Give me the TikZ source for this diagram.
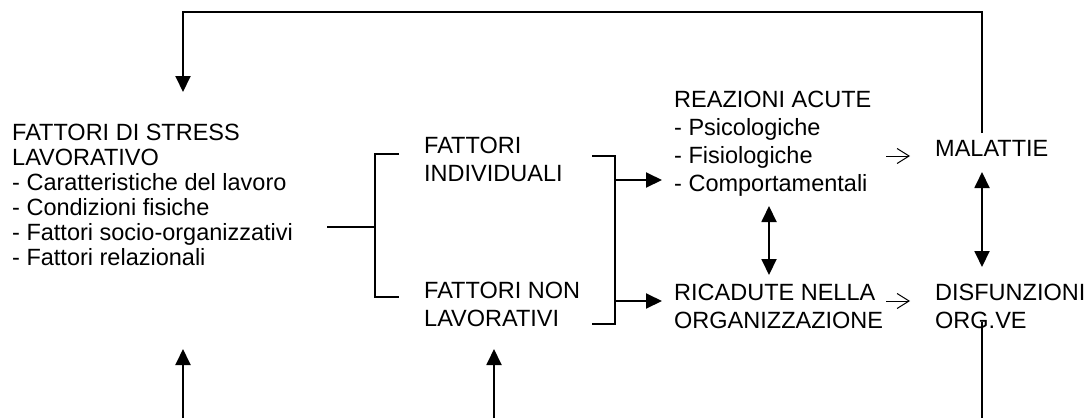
\documentclass[tikz,border=0pt]{standalone}
\usepackage{fontspec}
\setmainfont{Liberation Sans}
\usetikzlibrary{arrows.meta}
\begin{document}
\begin{tikzpicture}[x=1pt,y=-1pt,
  txt/.style={inner sep=0pt, anchor=base west, align=left, font=\fontsize{23.5}{28}\selectfont},
  tight/.style={font=\fontsize{23.5}{25}\selectfont},
  ln/.style={line width=1.9pt},
  arr/.style={ln, -{Triangle[length=16pt,width=15pt]}},
  darr/.style={ln, {Triangle[length=16pt,width=15pt]}-{Triangle[length=16pt,width=15pt]}},
  openarr/.style={line width=1pt, -{Straight Barb[length=12pt,width=15pt]}}]
\useasboundingbox (0,0) rectangle (1091,418);
\fill[white] (0,0) rectangle (1091,418);

% texts (anchored at the baseline of their last line)
\node[txt,tight] (stress) at (12,265) {FATTORI DI STRESS\\LAVORATIVO\\- Caratteristiche del lavoro\\- Condizioni fisiche\\- Fattori socio-organizzativi\\- Fattori relazionali};
\node[txt] (indiv) at (424,181) {FATTORI\\INDIVIDUALI};
\node[txt] (nonlav) at (424,326) {FATTORI NON\\LAVORATIVI};
\node[txt] (reaz) at (674,191) {REAZIONI ACUTE\\- Psicologiche\\- Fisiologiche\\- Comportamentali};
\node[txt] (ricad) at (674,328) {RICADUTE NELLA\\ORGANIZZAZIONE};
\node[txt] (mal) at (935,156) {MALATTIE};
\node[txt] (disf) at (935,328) {DISFUNZIONI\\ORG.VE};

% coordinates
\coordinate (stemL) at (327,227);
\coordinate (stemR) at (375,227);
\coordinate (lbTop) at (399,154);
\coordinate (lbBot) at (399,297);
\coordinate (rbTop) at (592,156);
\coordinate (rbBot) at (592,324);
\coordinate (rbX) at (615,240);
\coordinate (tipA) at (662,180);
\coordinate (tipB) at (662,301);
\coordinate (rrTop) at (769,206);
\coordinate (rrBot) at (769,275);
\coordinate (oaA1) at (886,156);
\coordinate (oaA2) at (910,156);
\coordinate (oaB1) at (886,301);
\coordinate (oaB2) at (910,301);
\coordinate (malTop) at (982,133);
\coordinate (loopR) at (982,12);
\coordinate (loopL) at (183,12);
\coordinate (stressTip) at (183,92);
\coordinate (mdTop) at (982,172);
\coordinate (mdBot) at (982,267);
\coordinate (disfBot) at (982,322);
\coordinate (edgeR) at (982,418);
\coordinate (edgeL) at (183,418);
\coordinate (edgeM) at (494,418);
\coordinate (upL) at (183,349);
\coordinate (upM) at (494,349);

% left bracket
\draw[ln] (stemL) -- (stemR);
\draw[ln] (lbTop) -- (lbTop -| stemR) -- (lbBot -| stemR) -- (lbBot);
% right bracket
\draw[ln] (rbTop) -- (rbTop -| rbX) -- (rbBot -| rbX) -- (rbBot);
\draw[arr] (tipA -| rbX) -- (tipA);
\draw[arr] (tipB -| rbX) -- (tipB);
% reazioni <-> ricadute
\draw[darr] (rrTop) -- (rrBot);
% open arrows
\draw[openarr] (oaA1) -- (oaA2);
\draw[openarr] (oaB1) -- (oaB2);
% malattie <-> disfunzioni
\draw[darr] (mdTop) -- (mdBot);
% feedback loop
\draw[arr] (malTop) -- (loopR) -- (loopL) -- (stressTip);
% bottom lines
\draw[ln] (disfBot) -- (edgeR);
\draw[arr] (edgeL) -- (upL);
\draw[arr] (edgeM) -- (upM);
\end{tikzpicture}
\end{document}
